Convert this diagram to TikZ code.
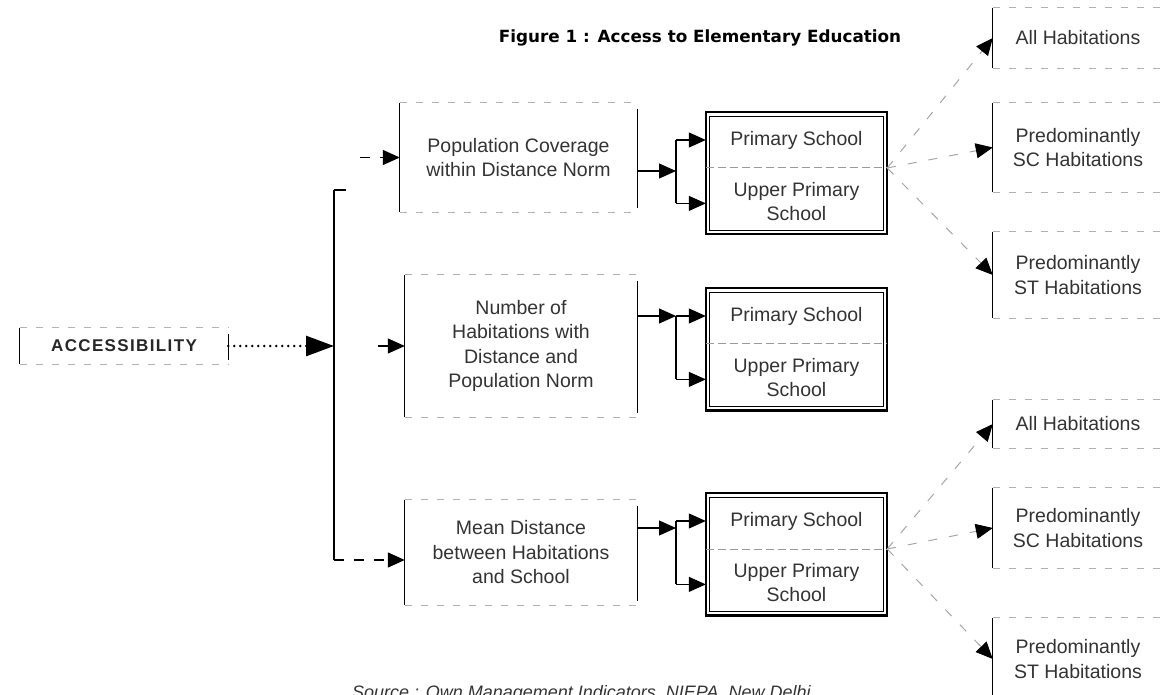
\documentclass[tikz,border=0pt]{standalone}
\usepackage{fontspec}
\setmainfont{Liberation Sans}
\newfontfamily\titlefont{DejaVu Sans}
\newfontfamily\capsfont[LetterSpace=8]{Liberation Sans}
\usetikzlibrary{arrows.meta}

\tikzset{
  boxtext/.style={font=\fontsize{19.5}{24.5}\selectfont, text=black!80, align=center, inner sep=0pt},
  frame/.style={draw=none, inner sep=0pt},
  vbar/.style={line width=1.3pt, black},
  hdash/.style={line width=1.1pt, gray!60, dash pattern=on 7pt off 9pt},
  tip/.style={-{Triangle[length=17pt,width=15pt]}},
  feed/.style={line width=1.3pt, black, dash pattern=on 10pt off 10pt, tip},
  fan/.style={line width=1pt, gray!70, dash pattern=on 9pt off 12pt, -{Triangle[length=17pt,width=15pt,color=black]}},
  link/.style={line width=1.1pt, black, tip},
}

\begin{document}
\begin{tikzpicture}[x=1pt,y=-1pt]
\useasboundingbox (0,0) rectangle (1163,695);
\clip (0,0) rectangle (1163,695);

% ---------- title ----------
\node[inner sep=0pt, font=\titlefont\bfseries\fontsize{16.8}{20}\selectfont] (title) at (700,38)
  {Figure 1 : Access to Elementary Education};

% ---------- open boxes: solid sides, dashed top and bottom ----------
\newcommand\openbox[1]{%
  \draw[hdash] (#1.north west) -- (#1.north east);
  \draw[hdash] (#1.south west) -- (#1.south east);
  \draw[vbar] (#1.north west) -- (#1.south west);
}
\newcommand\closedsides[1]{%
  \draw[vbar] ([yshift=-6pt]#1.north east) -- ([yshift=4pt]#1.south east);
}

% root
\node[frame, minimum width=208pt, minimum height=36pt] (acc) at (124,346) {};
\node[inner sep=0pt, font=\capsfont\bfseries\fontsize{17}{20}\selectfont, text=black!85] (acctext) at (acc.center) {ACCESSIBILITY};
\openbox{acc}\closedsides{acc}

% middle column
\node[frame, minimum width=237pt, minimum height=109pt] (b1) at (518.5,157.5) {};
\node[boxtext] (b1t) at (b1.center) {Population Coverage\\within Distance Norm};
\node[frame, minimum width=232pt, minimum height=142pt] (b2) at (521,346) {};
\node[boxtext] (b2t) at (b2.center) {Number of\\Habitations with\\Distance and\\Population Norm};
\node[frame, minimum width=232pt, minimum height=105pt] (b3) at (521,552.5) {};
\node[boxtext] (b3t) at (b3.center) {Mean Distance\\between Habitations\\and School};
\foreach \b in {b1,b2,b3}{\openbox{\b}\closedsides{\b}}

% school boxes with double frame
\newcommand\schoolbox[3]{% name, x, top y
  \node[frame, minimum width=181pt, minimum height=122pt, anchor=north] (#1) at (#2,#3) {};
  \draw[line width=2.2pt] (#1.north west) rectangle (#1.south east);
  \draw[line width=0.9pt] ([shift={(4,4)}]#1.north west) rectangle ([shift={(-4,-4)}]#1.south east);
  \coordinate (#1w) at ([yshift=-56pt]#1.north west);
  \coordinate (#1e) at ([yshift=-56pt]#1.north east);
  \draw[line width=1pt, gray!80, dash pattern=on 8pt off 4pt] (#1w) -- (#1e);
  \node[boxtext] (#1p) at ([yshift=-28pt]#1.north) {Primary School};
  \node[boxtext] (#1u) at ([yshift=33pt]#1.south) {Upper Primary\\School};
  \coordinate (#1in1) at ([yshift=-28pt]#1.north west);
  \coordinate (#1in2) at ([yshift=31pt]#1.south west);
}
\schoolbox{d1}{796.5}{112}
\schoolbox{d2}{796.5}{288}
\schoolbox{d3}{796.5}{493}

% right column
\node[frame, minimum width=170pt, minimum height=60pt] (r1) at (1078,38) {};
\node[boxtext] (r1t) at (r1.center) {All Habitations};
\node[frame, minimum width=170pt, minimum height=89pt] (r2) at (1078,147.5) {};
\node[boxtext] (r2t) at (r2.center) {Predominantly\\SC Habitations};
\node[frame, minimum width=170pt, minimum height=86pt] (r3) at (1078,275) {};
\node[boxtext] (r3t) at (r3.center) {Predominantly\\ST Habitations};
\node[frame, minimum width=170pt, minimum height=48pt] (r4) at (1078,424) {};
\node[boxtext] (r4t) at (r4.center) {All Habitations};
\node[frame, minimum width=170pt, minimum height=80pt] (r5) at (1078,528) {};
\node[boxtext] (r5t) at (r5.center) {Predominantly\\SC Habitations};
\node[frame, minimum width=170pt, minimum height=82pt] (r6) at (1078,659) {};
\node[boxtext] (r6t) at (r6.center) {Predominantly\\ST Habitations};
\foreach \b in {r1,r2,r3,r4,r5,r6}{\openbox{\b}}

% ---------- trunk ----------
\coordinate (ttop) at (334,190);
\coordinate (tmid) at (334,346);
\coordinate (tbot) at (334,560);
\draw[vbar] (ttop) -- (tbot);
\draw[vbar] (ttop) -- ++(12,0);
\draw[line width=2.8pt, line cap=round, dash pattern=on 0pt off 6pt,
      -{Triangle[length=28pt,width=20pt,line cap=butt]}] (acc.east) -- (tmid);

\coordinate (f1) at (360,157.5);
\coordinate (f2) at (378,346);
\draw[feed] (f1) -- (b1.west);
\draw[link] (f2) -- (b2.west);
\draw[feed] (tbot) -- (tbot -| b3.west);

% ---------- brackets into school boxes ----------
\newcommand\bracket[4]{% from box, to box, bracket x, incoming y
  \coordinate (#2k1) at (#3,0 |- #2in1);
  \coordinate (#2k2) at (#3,0 |- #2in2);
  \draw[vbar] (#2k1) -- (#2k2);
  \draw[link] (#2k1) -- (#2in1);
  \draw[link] (#2k2) -- (#2in2);
  \draw[link] (#1.east |- 0,#4) -- (#3,#4);
}
\bracket{b1}{d1}{676}{171}
\bracket{b2}{d2}{676}{316}
\bracket{b3}{d3}{676}{528}

% ---------- fans to habitation boxes ----------
\foreach \r in {r1,r2,r3}{\draw[fan] (d1e) -- (\r.west);}
\foreach \r in {r4,r5,r6}{\draw[fan] (d3e) -- (\r.west);}

% ---------- source line ----------
\node[anchor=north west, inner sep=0pt, font=\itshape\fontsize{18}{20}\selectfont, text=black!80] (src) at (352,685)
  {Source : Own Management Indicators, NIEPA, New Delhi};
\end{tikzpicture}
\end{document}
